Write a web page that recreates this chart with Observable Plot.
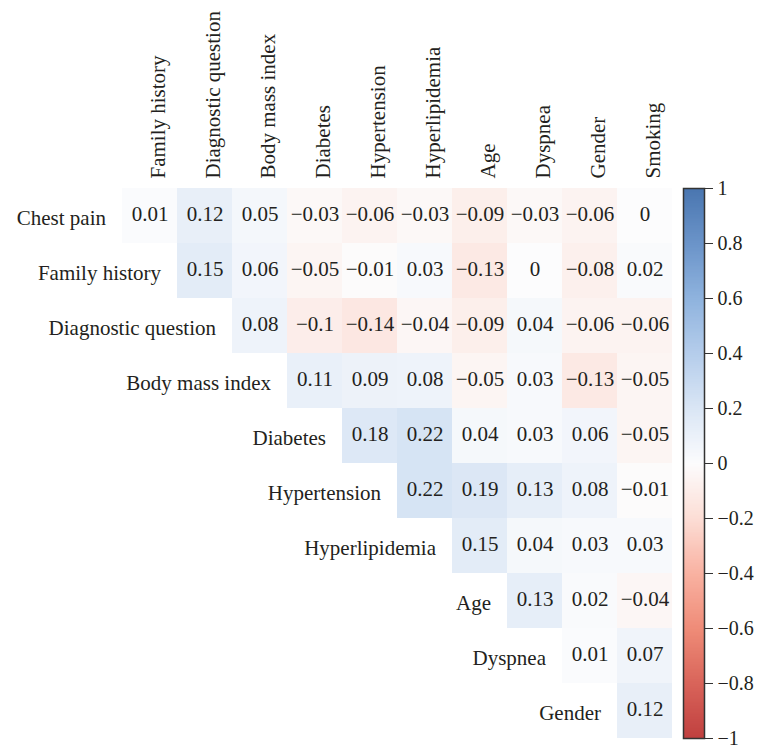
<!DOCTYPE html>
<html>
<head>
<meta charset="utf-8">
<script src="https://cdn.jsdelivr.net/npm/d3@7"></script>
<script src="https://cdn.jsdelivr.net/npm/@observablehq/plot@0.6"></script>
<style>
  body { margin: 0; background: #fff; }
  #wrap { display: flex; width: 757px; height: 748px; }
</style>
</head>
<body>
<div id="wrap"></div>
<script>
// Row variables (left labels) and column variables (top labels)
const rows = ["Chest pain", "Family history", "Diagnostic question", "Body mass index", "Diabetes",
              "Hypertension", "Hyperlipidemia", "Age", "Dyspnea", "Gender"];
const cols = ["Family history", "Diagnostic question", "Body mass index", "Diabetes", "Hypertension",
              "Hyperlipidemia", "Age", "Dyspnea", "Gender", "Smoking"];

// Correlations per row, starting at the column just after the row variable
const chestPain          = [0.01, 0.12, 0.05, -0.03, -0.06, -0.03, -0.09, -0.03, -0.06, 0];
const familyHistory      = [0.15, 0.06, -0.05, -0.01, 0.03, -0.13, 0, -0.08, 0.02];
const diagnosticQuestion = [0.08, -0.1, -0.14, -0.04, -0.09, 0.04, -0.06, -0.06];
const bodyMassIndex      = [0.11, 0.09, 0.08, -0.05, 0.03, -0.13, -0.05];
const diabetes           = [0.18, 0.22, 0.04, 0.03, 0.06, -0.05];
const hypertension       = [0.22, 0.19, 0.13, 0.08, -0.01];
const hyperlipidemia     = [0.15, 0.04, 0.03, 0.03];
const age                = [0.13, 0.02, -0.04];
const dyspnea            = [0.01, 0.07];
const gender             = [0.12];

const colorTicks = [-1, -0.8, -0.6, -0.4, -0.2, 0, 0.2, 0.4, 0.6, 0.8, 1];

const rowValues = [chestPain, familyHistory, diagnosticQuestion, bodyMassIndex, diabetes,
                   hypertension, hyperlipidemia, age, dyspnea, gender];

const cells = [];
rowValues.forEach((vals, i) => {
  vals.forEach((v, k) => cells.push({row: rows[i], col: cols[i + k], value: v}));
});
const rowLabels = rows.map((r, i) => ({row: r, col: cols[i]}));

const fmt = v => String(v).replace("-", "\u2212");

const colorScale = {
  type: "linear",
  domain: [-1, -0.8, -0.6, -0.4, -0.2, 0, 0.2, 0.4, 0.6, 0.8, 1],
  range: ["#c0403f", "#d9645a", "#ef8c78", "#f9b2a2", "#fcded6", "#fcfcfd",
          "#dae6f5", "#b5cdeb", "#8fb3de", "#6b94c9", "#4a76b0"]
};

const font = "'Liberation Serif', 'Times New Roman', serif";
const ink = "#231f20";

const main = Plot.plot({
  width: 680,
  height: 748,
  marginLeft: 122,
  marginRight: 8,
  marginTop: 188,
  marginBottom: 10,
  style: {fontFamily: font, fontSize: "21px", color: ink, background: "#fff"},
  x: {domain: cols, padding: 0, axis: null},
  y: {domain: rows, padding: 0, axis: null},
  color: colorScale,
  marks: [
    Plot.cell(cells, {x: "col", y: "row", fill: "value"}),
    Plot.text(cells, {x: "col", y: "row", text: d => fmt(d.value), fill: ink, fontSize: 21, dy: -2}),
    Plot.text(rowLabels, {x: "col", y: "row", text: "row", textAnchor: "end", dx: -44, dy: 2, fill: ink, fontSize: 21}),
    Plot.text(cols, {x: d => d, frameAnchor: "top", text: d => d, rotate: -90, textAnchor: "start", dy: -10, fill: ink, fontSize: 21})
  ]
});

const bar = Plot.plot({
  width: 77,
  height: 748,
  marginLeft: 3,
  marginRight: 53,
  marginTop: 188,
  marginBottom: 10,
  style: {fontFamily: font, fontSize: "20px", color: ink, background: "#fff"},
  x: {domain: [0, 1], axis: null},
  y: {domain: [-1, 1], axis: null},
  color: colorScale,
  marks: [
    Plot.raster({x1: 0, x2: 1, y1: -1, y2: 1, width: 1, height: 400, fill: (x, y) => y, imageRendering: "auto"}),
    Plot.frame({stroke: "#333", strokeWidth: 1.5}),
    Plot.axisY({anchor: "right", ticks: colorTicks, tickFormat: fmt, tickSize: 8, tickPadding: 5, fontSize: 20, stroke: "#333"})
  ]
});

document.getElementById("wrap").append(main, bar);
</script>
</body>
</html>
